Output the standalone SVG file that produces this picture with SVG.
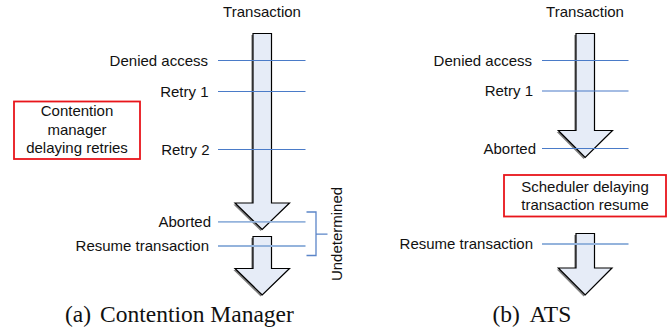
<svg xmlns="http://www.w3.org/2000/svg" width="672" height="329" viewBox="0 0 672 329">
  <defs>
    <style>
      .lbl { font-family: "Liberation Sans", Arial, sans-serif; font-size: 15px; fill: #111; }
      .end { text-anchor: end; }
      .mid { text-anchor: middle; }
      .cap { font-family: "Liberation Serif", "Times New Roman", serif; font-size: 23.5px; fill: #111; }
      .arrow { fill: #e6ecf7; stroke: #000; stroke-width: 1.2; stroke-linejoin: miter; }
      .shadow { fill: #7f7f7f; }
      .tick { stroke: #4a7bc8; stroke-width: 1.2; fill: none; }
      .tick-soft { stroke: #94b3dc; stroke-width: 1.8; fill: none; }
      .bracket { stroke: #5b85c8; stroke-width: 1.3; fill: none; }
      .note { fill: #fff; stroke: #e8151b; stroke-width: 1.8; }
    </style>
  </defs>

  <!-- (a) Contention Manager -->
  <g id="cm-transaction-title"><text class="lbl mid" x="262" y="17">Transaction</text></g>

  <g id="cm-arrow-1">
    <polygon class="shadow" transform="translate(-1.6,1.4)" points="253,33.5 271.5,33.5 271.5,203 289.5,203 262.2,229.5 235,203 253,203"/>
    <polygon class="arrow" points="253,33.5 271.5,33.5 271.5,203 289.5,203 262.2,229.5 235,203 253,203"/>
  </g>
  <g id="cm-arrow-2">
    <polygon class="shadow" transform="translate(-1.6,1.4)" points="253,236.5 271.5,236.5 271.5,268.5 289.5,268.5 262.2,295 235,268.5 253,268.5"/>
    <polygon class="arrow" points="253,236.5 271.5,236.5 271.5,268.5 289.5,268.5 262.2,295 235,268.5 253,268.5"/>
  </g>

  <g id="cm-note">
    <rect class="note" x="14" y="101.5" width="126" height="57.5"/>
    <text class="lbl mid" x="77" y="116">Contention</text>
    <text class="lbl mid" x="77" y="134.5">manager</text>
    <text class="lbl mid" x="77" y="152.5">delaying retries</text>
  </g>

  <g id="cm-events">
    <g id="cm-denied"><text class="lbl end" x="208" y="65.5">Denied access</text></g>
    <g id="cm-retry1"><text class="lbl end" x="208.5" y="96.5">Retry 1</text></g>
    <g id="cm-retry2"><text class="lbl end" x="209.5" y="154.5">Retry 2</text></g>
    <g id="cm-aborted"><text class="lbl end" x="211" y="226.5">Aborted</text></g>
    <g id="cm-resume"><text class="lbl end" x="209" y="251">Resume transaction</text></g>
  </g>

  <g id="cm-undetermined">
    <text class="lbl mid" transform="translate(341.5,234) rotate(-90)" x="0" y="0">Undetermined</text>
  </g>

  <!-- (b) ATS -->
  <g id="ats-transaction-title"><text class="lbl mid" x="585" y="17">Transaction</text></g>

  <g id="ats-arrow-1">
    <polygon class="shadow" transform="translate(-1.6,1.4)" points="576,33.5 594.5,33.5 594.5,130.5 612.5,130.5 585.2,157.5 558.3,130.5 576,130.5"/>
    <polygon class="arrow" points="576,33.5 594.5,33.5 594.5,130.5 612.5,130.5 585.2,157.5 558.3,130.5 576,130.5"/>
  </g>
  <g id="ats-arrow-2">
    <polygon class="shadow" transform="translate(-1.6,1.4)" points="576,233.5 594.5,233.5 594.5,268 612,268 585.2,295 558.3,268 576,268"/>
    <polygon class="arrow" points="576,233.5 594.5,233.5 594.5,268 612,268 585.2,295 558.3,268 576,268"/>
  </g>

  <g id="ats-note">
    <rect class="note" x="504" y="175" width="162" height="41.5"/>
    <text class="lbl mid" x="585" y="192">Scheduler delaying</text>
    <text class="lbl mid" x="585" y="209.5">transaction resume</text>
  </g>

  <g id="ats-events">
    <g id="ats-denied"><text class="lbl end" x="532" y="65.5">Denied access</text></g>
    <g id="ats-retry1"><text class="lbl end" x="533" y="96">Retry 1</text></g>
    <g id="ats-aborted"><text class="lbl end" x="536" y="153.5">Aborted</text></g>
    <g id="ats-resume"><text class="lbl end" x="533" y="248.5">Resume transaction</text></g>
  </g>

  <!-- connectors: event ticks and the undetermined bracket -->
  <g id="connectors">
    <line class="tick" x1="218" y1="60.5" x2="305.5" y2="60.5"/>
    <line class="tick" x1="218" y1="91.5" x2="305.5" y2="91.5"/>
    <line class="tick" x1="218" y1="149.5" x2="305.5" y2="149.5"/>
    <line class="tick-soft" x1="218" y1="221.8" x2="305.5" y2="221.8"/>
    <line class="tick-soft" x1="218" y1="246" x2="305.5" y2="246"/>
    <path class="bracket" d="M306.5,212 H316 V255.5 H306.5 M316,234.2 H327.5"/>

    <line class="tick" x1="542" y1="60.5" x2="628.5" y2="60.5"/>
    <line class="tick" x1="542" y1="91" x2="628.5" y2="91"/>
    <line class="tick" x1="542" y1="148.5" x2="628.5" y2="148.5"/>
    <line class="tick-soft" x1="542" y1="244" x2="628.5" y2="244"/>
  </g>

  <!-- captions -->
  <text class="cap" x="65" y="321.5">(a)</text>
  <text class="cap" x="100" y="321.5">Contention Manager</text>
  <text class="cap" x="492.5" y="321.5">(b)</text>
  <text class="cap" x="529.5" y="321.5">ATS</text>
</svg>
